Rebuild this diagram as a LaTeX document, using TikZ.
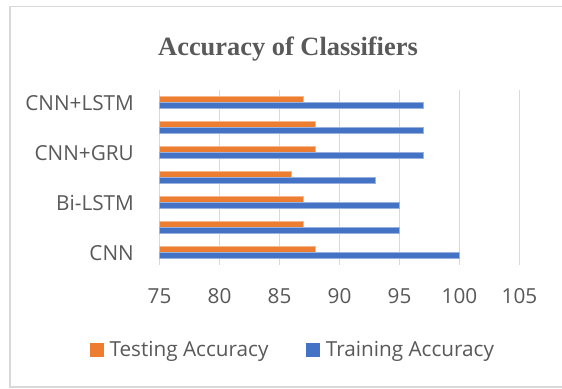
\documentclass[tikz,border=0pt]{standalone}
\usepackage{fontspec}
\setmainfont{Open Sans}
\newfontfamily\titlefont{Liberation Serif}
\definecolor{txtgrey}{HTML}{595959}
\definecolor{gridgrey}{HTML}{D9D9D9}
\definecolor{framegrey}{HTML}{D9D9D9}
\definecolor{testorange}{HTML}{ED7D31}
\definecolor{trainblue}{HTML}{4472C4}
\tikzset{
  frameline/.style={draw=framegrey, line width=1.5bp},
  gridline/.style={draw=gridgrey, line width=1.5bp},
  testbar/.style={fill=testorange, draw=testorange!55!white, line width=0.5bp},
  trainbar/.style={fill=trainblue, draw=trainblue!55!white, line width=0.5bp},
  labelfont/.style={font=\fontsize{20.8}{24}\selectfont},
  catlabel/.style={labelfont, anchor=base east, inner sep=0pt, text=txtgrey},
  ticklabel/.style={labelfont, anchor=base, inner sep=0pt, text=txtgrey},
  legendtext/.style={labelfont, anchor=base west, inner sep=0pt, text=txtgrey},
  titletext/.style={anchor=base, inner sep=0pt, text=txtgrey, font=\titlefont\bfseries\fontsize{26.5}{30}\selectfont},
}
\begin{document}
\begin{tikzpicture}[x=1bp,y=-1bp]
\useasboundingbox (0,0) rectangle (562,388);
\fill[white] (0,0) rectangle (562,388);
\draw[frameline] (10,6.5) rectangle (575,387);
\node[titletext] (title) at (288,55) {Accuracy of Classifiers};
% gridlines and tick labels
\foreach \v [count=\k from 0] in {75,80,85,90,95,100,105} {
  \pgfmathsetmacro{\xx}{159.5+60*\k}
  \draw[gridline] (\xx,90) -- (\xx,265);
  \node[ticklabel] (tick\v) at (\xx,303.3) {\v};
}
% bars: category i from bottom, train/test
\foreach \tr/\te [count=\i] in {100/88,95/87,95/87,93/86,97/88,97/88,97/87} {
  \pgfmathsetmacro{\c}{277.5-25*\i}
  \pgfmathsetmacro{\xtr}{159.5+12*(\tr-75)}
  \pgfmathsetmacro{\xte}{159.5+12*(\te-75)}
  \draw[testbar] (159.5,\c-5.8) rectangle (\xte,\c);
  \draw[trainbar] (159.5,\c) rectangle (\xtr,\c+5.8);
}
% category labels
\node[catlabel] (lab1) at (134,260) {CNN};
\node[catlabel] (lab3) at (134,210) {Bi-LSTM};
\node[catlabel] (lab5) at (134,160) {CNN+GRU};
\node[catlabel] (lab7) at (134,110) {CNN+LSTM};
% legend
\fill[testorange] (90,343.3) rectangle (104,356.7);
\node[legendtext] (legtest) at (109.3,356.7) {Testing Accuracy};
\fill[trainblue] (306,343.3) rectangle (320,356.7);
\node[legendtext] (legtrain) at (325.7,356.7) {Training Accuracy};
\end{tikzpicture}
\end{document}
